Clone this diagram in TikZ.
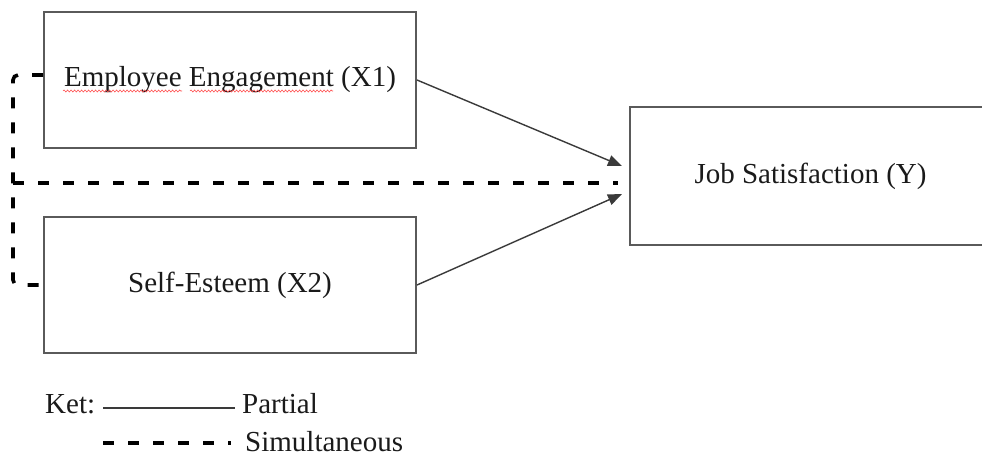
\documentclass[tikz,border=0pt]{standalone}
\usepackage{fontspec}
\setmainfont{Liberation Serif}
\usetikzlibrary{arrows.meta,calc,decorations.pathmorphing}
\definecolor{boxgray}{HTML}{5A5A5A}
\definecolor{linegray}{HTML}{3A3A3A}
\definecolor{txt}{HTML}{1A1A1A}
\begin{document}
\begin{tikzpicture}[x=1pt,y=-1pt,
  box/.style={draw=boxgray,line width=2pt,minimum width=372pt,minimum height=136pt,inner sep=0pt,text=txt,font=\fontsize{29}{34}\selectfont},
  partial/.style={draw=linegray,line width=1.4pt,-{Triangle[length=14pt,width=11pt]}},
  simul/.style={draw=black,line width=3.6pt,dash pattern=on 11pt off 14pt},
  lbl/.style={text=txt,font=\fontsize{29}{34}\selectfont,inner sep=0pt},
  squiggle/.style={draw=red!70!white,line width=0.6pt,decorate,decoration={snake,amplitude=1pt,segment length=3.5pt}}]
\useasboundingbox (0,0) rectangle (982,456);
\fill[white] (0,0) rectangle (982,456);
% boxes
\node[box] (X1) at (230,80) {Employee Engagement (X1)};
\node[box] (X2) at (230,285) {Self-Esteem (X2)};
\node[box,minimum width=361pt,minimum height=138pt] (Y) at (810.5,176) {Job Satisfaction (Y)};
% spell-check underline
\coordinate (u0) at (63,91); \coordinate (u1) at (182,91);
\coordinate (u2) at (190,91); \coordinate (u3) at (333,91);
\draw[squiggle] (u0) -- (u1);
\draw[squiggle] (u2) -- (u3);
% partial arrows
\draw[partial] (X1.east) -- ($(Y.west)+(-7,-10)$);
\draw[partial] (X2.east) -- ($(Y.west)+(-7,18)$);
% simultaneous
\coordinate (c1) at (13,75);
\coordinate (c2) at (13,285);
\coordinate (c3) at (13,183);
\draw[simul,rounded corners=5pt] ($(X1.west)+(0,-5)$) -- (c1) -- (c2) -- (X2.west);
\draw[simul] (c3) -- ($(Y.west)+(-11,7)$);
% legend
\node[lbl,anchor=base west] (ket) at (45,413) {Ket:};
\coordinate (p0) at (103,408);
\coordinate (p1) at (235,408);
\draw[draw=linegray,line width=1.4pt] (p0) -- (p1);
\node[lbl,anchor=base west] (partial) at (242,413) {Partial};
\coordinate (s0) at (103,443);
\coordinate (s1) at (231,443);
\draw[simul] (s0) -- (s1);
\node[lbl,anchor=base west] (simul) at (245,451) {Simultaneous};
\end{tikzpicture}
\end{document}
